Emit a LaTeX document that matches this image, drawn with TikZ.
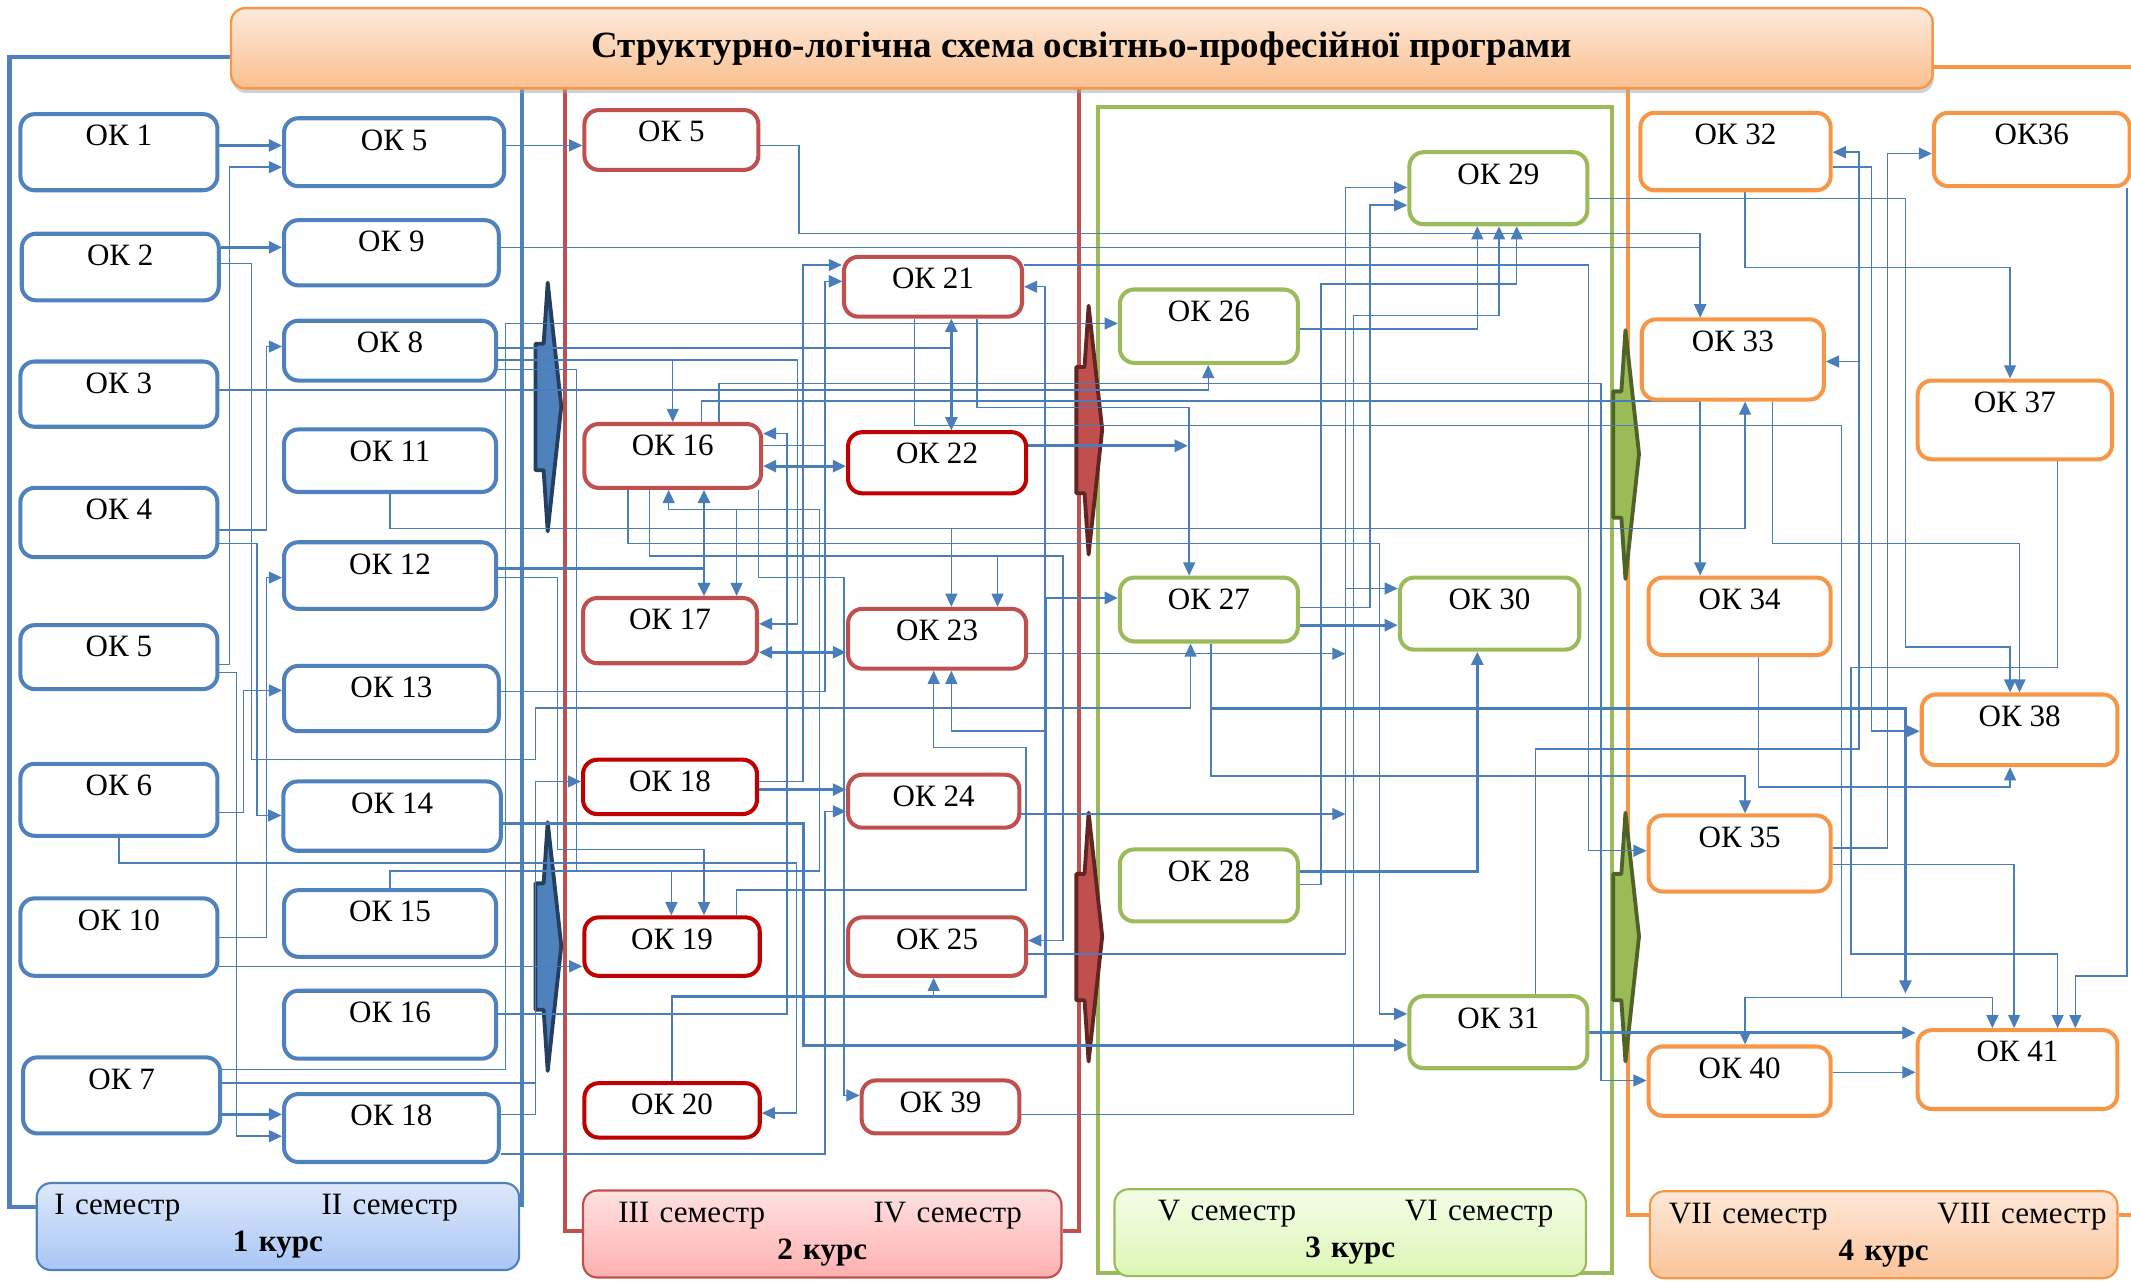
\documentclass[tikz,border=0pt]{standalone}
\usepackage{fontspec}
\setmainfont{Liberation Serif}
\usetikzlibrary{arrows.meta,backgrounds,shadows}
\definecolor{okblue}{HTML}{4F81BD}
\definecolor{okred}{HTML}{C0504D}
\definecolor{okdred}{HTML}{C00000}
\definecolor{okgreen}{HTML}{9BBB59}
\definecolor{okorange}{HTML}{F79646}
\definecolor{lnk}{HTML}{4A7EBB}
\definecolor{chbd}{HTML}{243F60}
\definecolor{chrd}{HTML}{632523}
\definecolor{chgd}{HTML}{4F6228}
\definecolor{ttltop}{HTML}{FDEADB}
\definecolor{ttlbot}{HTML}{FABF8F}
\definecolor{s1top}{HTML}{DDE8FA}
\definecolor{s1bot}{HTML}{A9C6F6}
\definecolor{s2top}{HTML}{FFE1E1}
\definecolor{s2bot}{HTML}{FFB0B0}
\definecolor{s3top}{HTML}{F4FDE8}
\definecolor{s3bot}{HTML}{DCF6B5}
\definecolor{s4top}{HTML}{FEE8D8}
\definecolor{s4bot}{HTML}{FBC49A}
\newdimen\unitpx \unitpx=0.02cm

\tikzset{
  >={Triangle[length=5.5pt,width=5pt]},
  okb/.style 2 args={draw, fill=white, rounded corners=6pt, line width=1.7pt, inner sep=0pt,
    minimum width=#1*\unitpx, minimum height=#2*\unitpx, text height=9pt, text depth=(#2-31)*\unitpx,
    font=\fontsize{13}{15}\selectfont},
  kb/.style={draw=okblue}, kr/.style={draw=okred}, krd/.style={draw=okdred},
  kg/.style={draw=okgreen}, ko/.style={draw=okorange},
  sem/.style n args={4}{draw=#1, line width=0.9pt, rounded corners=6pt, top color=#2, bottom color=#3,
    inner sep=0pt, minimum width=#4*\unitpx, text width=#4*\unitpx, minimum height=64*\unitpx,
    align=center, font=\fontsize{13}{15.5}\selectfont},
  fr/.style={draw=#1, line width=1.7pt},
  ln/.style={draw=lnk, line width=0.6pt},
  ar/.style={ln, ->},
  art/.style={ln, ->, line width=1.2pt},
  bi/.style={ln, <->, line width=1.2pt},
  chev/.pic={\path[pic actions, line width=1.6pt, line join=round]
    (9,0) -- (19,91) -- (9,183) -- (6,138) -- (0,138) -- (0,45) -- (6,45) -- cycle;}
}

\begin{document}
\begin{tikzpicture}[x=0.02cm, y=-0.02cm]
\useasboundingbox (0,0) rectangle (1568,942);

\node[draw=okorange, line width=1pt, rounded corners=6pt, top color=ttltop, bottom color=ttlbot,
  minimum width=1252*\unitpx, minimum height=59*\unitpx, font=\fontsize{15.5}{18}\selectfont\bfseries,
  drop shadow={shadow xshift=0.5pt, shadow yshift=-2pt, fill=black!35}]
  (title) at (796,35.5) {Структурно-логічна схема освітньо-професійної програми};

% 1 курс
\node[okb={145}{56}, kb] (k1) at (87.5,112) {ОК 1};
\node[okb={145}{49}, kb] (k2) at (88.5,196.5) {ОК 2};
\node[okb={145}{48}, kb] (k3) at (87.5,290) {ОК 3};
\node[okb={145}{51}, kb] (k4) at (87.5,384.5) {ОК 4};
\node[okb={145}{47}, kb] (k5) at (87.5,483.5) {ОК 5};
\node[okb={145}{53}, kb] (k6) at (87.5,588.5) {ОК 6};
\node[okb={145}{57}, kb] (k10) at (87.5,689.5) {ОК 10};
\node[okb={145}{56}, kb] (k7) at (89.5,806) {ОК 7};
\node[okb={162}{50}, kb] (b5) at (290,112) {ОК 5};
\node[okb={158}{48}, kb] (b9) at (288,186) {ОК 9};
\node[okb={156}{44}, kb] (b8) at (287,258) {ОК 8};
\node[okb={156}{46}, kb] (b11) at (287,339) {ОК 11};
\node[okb={156}{49}, kb] (b12) at (287,423.5) {ОК 12};
\node[okb={158}{48}, kb] (b13) at (288,514) {ОК 13};
\node[okb={160}{51}, kb] (b14) at (288.5,600.5) {ОК 14};
\node[okb={156}{49}, kb] (b15) at (287,679.5) {ОК 15};
\node[okb={156}{50}, kb] (b16) at (287,754) {ОК 16};
\node[okb={158}{50}, kb] (b18) at (288,830) {ОК 18};

% 2 курс
\node[okb={128}{44}, kr] (r5) at (494,103) {ОК 5};
\node[okb={130}{47}, kr] (r16) at (495,335.5) {ОК 16};
\node[okb={128}{48}, kr] (r17) at (493,464) {ОК 17};
\node[okb={128}{40}, krd] (r18) at (493,579) {ОК 18};
\node[okb={129}{43}, krd] (r19) at (494.5,696.5) {ОК 19};
\node[okb={129}{40}, krd] (r20) at (494.5,817) {ОК 20};
\node[okb={131}{44}, kr] (r21) at (686.5,211) {ОК 21};
\node[okb={131}{45}, krd] (r22) at (689.5,340.5) {ОК 22};
\node[okb={131}{44}, kr] (r23) at (689.5,470) {ОК 23};
\node[okb={126}{39}, kr] (r24) at (687,589.5) {ОК 24};
\node[okb={131}{43}, kr] (r25) at (689.5,696.5) {ОК 25};
\node[okb={116}{39}, kr] (r39) at (692,814.5) {ОК 39};

% 3 курс
\node[okb={131}{54}, kg] (g26) at (889.5,240) {ОК 26};
\node[okb={131}{47}, kg] (g27) at (889.5,448.5) {ОК 27};
\node[okb={131}{53}, kg] (g28) at (889.5,651.5) {ОК 28};
\node[okb={131}{53}, kg] (g29) at (1102.5,138.5) {ОК 29};
\node[okb={132}{53}, kg] (g30) at (1096,451.5) {ОК 30};
\node[okb={131}{53}, kg] (g31) at (1102.5,759.5) {ОК 31};

% 4 курс
\node[okb={140}{57}, ko] (o32) at (1277,111.5) {ОК 32};
\node[okb={134}{59}, ko] (o33) at (1275,264.5) {ОК 33};
\node[okb={134}{57}, ko] (o34) at (1280,453.5) {ОК 34};
\node[okb={134}{56}, ko] (o35) at (1280,628) {ОК 35};
\node[okb={134}{51}, ko] (o40) at (1280,795.5) {ОК 40};
\node[okb={144}{54}, ko] (o36) at (1495,110) {ОК36};
\node[okb={143}{58}, ko] (o37) at (1482.5,309) {ОК 37};
\node[okb={144}{52}, ko] (o38) at (1486,537) {ОК 38};
\node[okb={147}{58}, ko] (o41) at (1484.5,787) {ОК 41};

\node[sem={okblue}{s1top}{s1bot}{355}] (s1) at (204.5,902.5)
  {\hspace*{13\unitpx}I семестр\hfill II семестр\hspace*{45\unitpx}\null\\\textbf{1 курс}};
\node[sem={okred}{s2top}{s2bot}{352}] (s2) at (605,908)
  {\hspace*{26\unitpx}III семестр\hfill IV семестр\hspace*{29\unitpx}\null\\\textbf{2 курс}};
\node[sem={okgreen}{s3top}{s3bot}{347}] (s3) at (993.5,907)
  {\hspace*{32\unitpx}V семестр\hfill VI семестр\hspace*{24\unitpx}\null\\\textbf{3 курс}};
\node[sem={okorange}{s4top}{s4bot}{344}] (s4) at (1386,908.5)
  {\hspace*{14\unitpx}VII семестр\hfill VIII семестр\hspace*{8\unitpx}\null\\\textbf{4 курс}};

\coordinate (j1) at (990,481);
\coordinate (j2) at (990,599);
\coordinate (j3) at (874,328);
\coordinate (j4) at (1402,731);

\begin{pgfonlayer}{background}
\draw[fr=okblue] (title.west |- 0,42) -| (7,888) -- (s1.west |- 0,888);
\draw[fr=okblue] (384,65) -- (384,888);
\draw[fr=okred] (416,65) |- (s2.west |- 0,906);
\draw[fr=okred] (794,65) |- (s2.east |- 0,906);
\draw[fr=okgreen] (808,79) rectangle (1186,937);
\draw[fr=okorange] (title.east |- 0,49) -- (1568,49);
\draw[fr=okorange] (1198,65) |- (s4.west |- 0,894);
\draw[fr=okorange] (s4.east |- 0,894) -- (1568,894);

\pic[draw=chbd, fill=okblue] at (394,208) {chev};
\pic[draw=chbd, fill=okblue] at (394,605) {chev};
\pic[draw=chrd, fill=okred] at (792,225) {chev};
\pic[draw=chrd, fill=okred] at (792,598) {chev};
\pic[draw=chgd, fill=okgreen] at (1187,243) {chev};
\pic[draw=chgd, fill=okgreen] at (1187,598) {chev};

% зв'язки 1 курсу
\draw[art] (k1.east |- 0,107) -- (b5.west |- 0,107);
\draw[ar] (k5.east |- 0,489) -| (169,123) -- (b5.west |- 0,123);
\draw[ar] (k5.east |- 0,495) -| (174,836) -- (b18.west |- 0,836);
\draw[art] (k2.east |- 0,182) -- (b9.west |- 0,182);
\draw[ar] (k2.east |- 0,194) -| (185,559) -| (394,521) -| (g27.south -| 876,0);
\draw[ar] (k4.east |- 0,390) -| (196,255) -- (b8.west |- 0,255);
\draw[ar] (k4.east |- 0,400) -| (189,600) -- (b14.west |- 0,600);
\draw[ar] (k10.east |- 0,690) -| (196,425) -- (b12.west |- 0,425);
\draw[ar] (k6.east |- 0,598) -| (179,508) -- (b13.west |- 0,508);
\draw[ar] (k3.east |- 0,287) -| (g26.south -| 889,0);
\draw[ar] (k6.south) |- (586,635) |- (r20.east |- 0,819);
\draw[ar] (k7.east |- 0,787) -| (372,238) -- (g26.west |- 0,238);
\draw[ln] (k7.east |- 0,797) -- (394,797);
\draw[ar] (b18.east |- 0,820) -| (394,575) -- (r18.west |- 0,575);
\draw[art] (k7.east |- 0,820) -- (b18.west |- 0,820);
\draw[ar] (k10.east |- 0,711) -- (r19.west |- 0,711);
\draw[ar] (b5.east |- 0,107) -- (r5.west |- 0,107);
\draw[ar] (b9.east |- 0,182) -| (o33.north -| 1251,0);
\draw[ar] (r5.east |- 0,107) -| (588,172) -| (o33.north -| 1251,0);
\draw[ar] (b8.east |- 0,265) -| (r16.north -| 495,0);
\draw[ar] (b8.east |- 0,265) -| (587,459) -- (r17.east |- 0,459);
\draw[ar] (b8.east |- 0,256) -| (r22.north -| 700,0);
\draw[ar] (b8.east |- 0,272) -| (424,641) -| (r19.north -| 494,0);
\draw[ar] (b11.south) |- (1284,389) -- (o33.south -| 1284,0);
\draw[ar] (b11.south) |- (700,389) -- (r23.north -| 700,0);
\draw[art] (b12.east |- 0,418) -| (r17.north -| 518,0);
\draw[ar] (b12.east |- 0,425) -| (410,625) -| (r19.north -| 518,0);
\draw[ar] (b13.east |- 0,509) -| (607,207) -- (r21.west |- 0,207);
\draw[art] (b14.east |- 0,606) -| (591,769) -- (g31.west |- 0,769);
\draw[ar] (b15.north) |- (603,641) |- (492,375) -- (r16.south -| 492,0);
\draw[ar] (b15.north) |- (603,641) |- (542,375) -- (r17.north -| 542,0);
\draw[ar] (b16.east |- 0,746) -| (579,319) -- (r16.east |- 0,319);
\draw[ar] (b18.east |- 0,849) -| (607,597) -- (r24.west |- 0,597);

% зв'язки 2 курсу
\draw[bi] (r16.east |- 0,343) -- (r22.west |- 0,343);
\draw[bi] (r21.south -| 700,0) -- (r22.north -| 700,0);
\draw[bi] (r16.south -| 518,0) -- (r17.north -| 518,0);
\draw[bi] (r17.east |- 0,480) -- (r23.west |- 0,480);
\draw[ar] (r16.east |- 0,328) -| (607,207) -- (r21.west |- 0,207);
\draw[ar] (r18.east |- 0,575) -| (591,195) -- (r21.west |- 0,195);
\draw[art] (r18.east |- 0,581) -- (r24.west |- 0,581);
\draw[ar] (r16.south -| 478,0) |- (782,409) |- (r25.east |- 0,692);
\draw[ar] (r16.south -| 478,0) |- (734,409) -- (r23.north -| 734,0);
\draw[ar] (r16.south -| 558,0) |- (621,425) |- (r39.west |- 0,806);
\draw[ar] (r16.south -| 462,0) |- (1015,400) |- (g31.west |- 0,746);
\draw[ar] (r19.north -| 542,0) |- (755,655) |- (687,550) -- (r23.south -| 687,0);
\draw[ar] (r20.north) |- (769,733) |- (700,538) -- (r23.south -| 700,0);
\draw[ar] (r20.north) |- (769,733) |- (r21.east |- 0,211);
\draw[ar] (r20.north) |- (687,733) -- (r25.south -| 687,0);
\draw[art] (r20.north) |- (769,733) |- (g27.west |- 0,440);
\draw[ar] (r23.east |- 0,481) -- (j1);
\draw[ar] (r24.east |- 0,599) -- (j2);
\draw[ar] (r25.east |- 0,702) -| (990,138) -- (g29.west |- 0,138);
\draw[ar] (r25.east |- 0,702) -| (990,433) -- (g30.west |- 0,433);
\draw[ar] (r39.east |- 0,820) -| (996,232) -| (g29.south -| 1103,0);
\draw[art] (r22.east |- 0,328) -- (j3);
\draw[ar] (r21.south -| 719,0) |- (875,300) -- (g27.north -| 875,0);
\draw[ar] (r16.north -| 516,0) |- (1251,295) -- (o34.north -| 1251,0);
\draw[ar] (r21.south -| 673,0) |- (1355,313) |- (1466,734) -- (o41.north -| 1466,0);
\draw[ar] (r21.south -| 673,0) |- (1355,313) |- (1284,734) -- (o40.north -| 1284,0);
\draw[ar] (r21.east |- 0,195) -| (1169,626) -- (o35.west |- 0,626);
\draw[ar] (r16.north -| 529,0) |- (1178,282) |- (o40.west |- 0,795);

% зв'язки 3 курсу
\draw[ar] (g26.east |- 0,242) -| (g29.south -| 1087,0);
\draw[ar] (g28.east |- 0,651) -| (972,209) -| (g29.south -| 1116,0);
\draw[ar] (g27.east |- 0,447) -| (1008,151) -- (g29.west |- 0,151);
\draw[art] (g27.east |- 0,460) -- (g30.west |- 0,460);
\draw[art] (g28.east |- 0,641) -| (g30.south -| 1087,0);
\draw[ar] (g27.south -| 891,0) |- (1284,571) -- (o35.north -| 1284,0);
\draw[art] (g27.south -| 891,0) |- (1402,521) -- (j4);
\draw[ar] (g29.east |- 0,146) -| (1402,476) -| (o38.north -| 1479,0);
\draw[ar] (g31.north -| 1130,0) |- (1368,551) |- (o33.east |- 0,266);
\draw[ar] (g31.north -| 1130,0) |- (1368,551) |- (o32.east |- 0,112);
\draw[art] (g31.east |- 0,760) -- (o41.west |- 0,760);

% зв'язки 4 курсу
\draw[ar] (o32.south -| 1284,0) |- (1479,197) -- (o37.north -| 1479,0);
\draw[ar] (o32.east |- 0,123) -| (1377,538) -- (o38.west |- 0,538);
\draw[ar] (o35.east |- 0,624) -| (1389,113) -- (o36.west |- 0,113);
\draw[ar] (o33.south -| 1304,0) |- (1486,400) -- (o38.north -| 1486,0);
\draw[ar] (o34.south -| 1294,0) |- (1479,579) -- (o38.south -| 1479,0);
\draw[ar] (o37.south -| 1514,0) |- (1362,491) |- (1514,702) -- (o41.north -| 1514,0);
\draw[ar] (o36.south -| 1565,0) |- (1527,718) -- (o41.north -| 1527,0);
\draw[ar] (o35.east |- 0,636) -| (o41.north -| 1482,0);
\draw[ar] (o40.east |- 0,789) -- (o41.west |- 0,789);
\end{pgfonlayer}
\end{tikzpicture}
\end{document}
